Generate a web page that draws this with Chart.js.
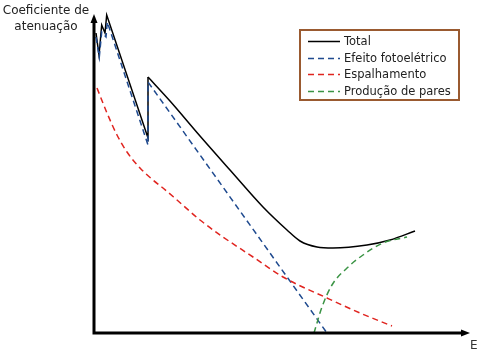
<!DOCTYPE html>
<html>
<head>
<meta charset="utf-8">
<script src="https://cdn.jsdelivr.net/npm/chart.js@4"></script>
<style>
  html,body{margin:0;padding:0;background:#fff;}
  #wrap{position:relative;width:480px;height:355px;overflow:hidden;font-family:"DejaVu Sans",Verdana,sans-serif;}
  canvas{position:absolute;left:0;top:0;}
  #ylab{position:absolute;left:0;top:2px;width:92px;text-align:center;font-size:12px;line-height:16px;color:#222;}
  #xlab{position:absolute;left:470px;top:338px;font-size:12px;color:#333;}
  #legend{position:absolute;left:299px;top:29px;width:157px;height:68px;border:2px solid #9a5a30;box-sizing:content-box;}
  .row{position:absolute;left:7px;height:16px;font-size:11.5px;line-height:16px;color:#222;white-space:nowrap;}
  .row svg{position:absolute;left:0;top:7px;}
  .row span{position:absolute;left:36px;top:0;}
</style>
</head>
<body>
<div id="wrap">
  <canvas id="c" width="480" height="355"></canvas>
  <div id="ylab"></div>
  <div id="xlab"></div>
  <div id="legend"></div>
</div>
<script>
// ---- data (schematic units; x: energy, y: coefficient) ----
const yAxisTitle = ["Coeficiente de", "atenuação"];
const xAxisTitle = "E";
const seriesNames = ["Total", "Efeito fotoelétrico", "Espalhamento", "Produção de pares"];
const seriesColors = ["#000000", "#1f4a8f", "#e0241f", "#3b9445"];

// Total: absorption-edge region (straight segments)
const totalEdgeX = [2, 5, 7.7, 11, 12.7, 54, 54];
const totalEdgeY = [300, 278, 308, 300, 318, 195, 256];
// Total: smooth part after the edge
const totalCurveX = [54, 76, 106, 136, 169, 193, 206, 223, 239, 273, 296, 321];
const totalCurveY = [256, 232, 197, 163, 126, 103, 92, 86, 85, 88, 93, 102];

// Efeito fotoelétrico
const photoX = [2, 5.3, 7.7, 12, 13.3, 54, 54, 233];
const photoY = [296, 276, 301, 296, 311, 188, 251, 0];

// Espalhamento
const scatX = [3, 13, 23, 33, 46, 59, 69, 83, 106, 129, 159, 189, 233, 266, 298];
const scatY = [245, 220, 198, 181, 165, 153, 145, 133, 113, 96, 76, 56, 35, 20, 7];

// Produção de pares
const pairX = [220, 228, 238, 253, 269, 289, 313];
const pairY = [0, 26, 48, 65, 78, 90, 96];

const xMax = 376, yMax = 319;

function pts(xs, ys){ return xs.map((x,i)=>({x:x, y:ys[i]})); }

const dash = [6,4];
const axesPlugin = {
  id:'axes',
  afterDatasetsDraw(chart){
    const {ctx, chartArea:a} = chart;
    ctx.save();
    ctx.strokeStyle='#000'; ctx.fillStyle='#000'; ctx.lineWidth=3; ctx.lineCap='butt';
    ctx.beginPath();
    ctx.moveTo(a.left, a.bottom+1.5); ctx.lineTo(a.left, a.top+6);
    ctx.moveTo(a.left-1.5, a.bottom); ctx.lineTo(a.right-6, a.bottom);
    ctx.stroke();
    // arrowheads
    ctx.beginPath();
    ctx.moveTo(a.left, a.top); ctx.lineTo(a.left-3.5, a.top+9); ctx.lineTo(a.left+3.5, a.top+9); ctx.closePath();
    ctx.fill();
    ctx.beginPath();
    ctx.moveTo(a.right, a.bottom); ctx.lineTo(a.right-9, a.bottom-3.5); ctx.lineTo(a.right-9, a.bottom+3.5); ctx.closePath();
    ctx.fill();
    ctx.restore();
  }
};

const common = {pointRadius:0, borderWidth:1.5, fill:false, clip:false};
new Chart(document.getElementById('c'), {
  type:'scatter',
  data:{datasets:[
    Object.assign({label:seriesNames[2], data:pts(scatX,scatY), showLine:true, borderColor:seriesColors[2], borderDash:dash, cubicInterpolationMode:'monotone'}, common),
    Object.assign({label:seriesNames[3], data:pts(pairX,pairY), showLine:true, borderColor:seriesColors[3], borderDash:dash, cubicInterpolationMode:'monotone'}, common),
    Object.assign({label:seriesNames[1], data:pts(photoX,photoY), showLine:true, borderColor:seriesColors[1], borderDash:dash, tension:0}, common),
    Object.assign({label:seriesNames[0], data:pts(totalEdgeX,totalEdgeY), showLine:true, borderColor:seriesColors[0], tension:0}, common),
    Object.assign({label:seriesNames[0], data:pts(totalCurveX,totalCurveY), showLine:true, borderColor:seriesColors[0], cubicInterpolationMode:'monotone'}, common)
  ]},
  options:{
    responsive:false, animation:false, devicePixelRatio:1,
    layout:{padding:{left:94, right:10, top:14, bottom:22}},
    plugins:{legend:{display:false}, tooltip:{enabled:false}},
    scales:{
      x:{type:'linear', min:0, max:xMax, display:false},
      y:{type:'linear', min:0, max:yMax, display:false}
    }
  },
  plugins:[axesPlugin]
});

// text labels
document.getElementById('ylab').innerHTML = yAxisTitle.join('<br>');
document.getElementById('xlab').textContent = xAxisTitle;
const leg = document.getElementById('legend');
seriesNames.forEach((n,i)=>{
  const r = document.createElement('div');
  r.className='row';
  r.style.top = (2 + i*16.7) + 'px';
  const d = i===0 ? '' : 'stroke-dasharray="6,4"';
  r.innerHTML = '<svg width="32" height="3"><line x1="0" y1="1.5" x2="32" y2="1.5" stroke="'+seriesColors[i]+'" stroke-width="1.5" '+d+'/></svg><span></span>';
  r.querySelector('span').textContent = n;
  leg.appendChild(r);
});
</script>
</body>
</html>
